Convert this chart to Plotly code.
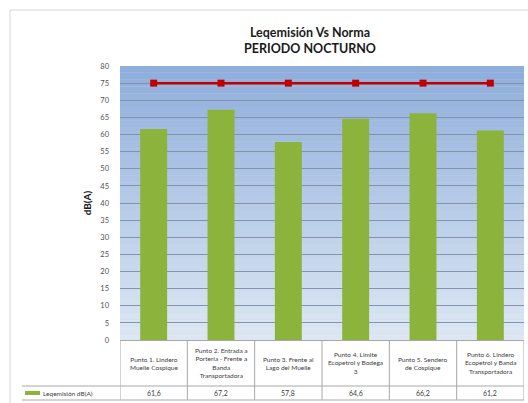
import plotly.graph_objects as go

categories = [
    "Punto 1. Lindero<br>Muelle Cospique",
    "Punto 2. Entrada a<br>Portería - Frente a<br>Banda<br>Transportadora",
    "Punto 3. Frente al<br>Lago del Muelle",
    "Punto 4. Limite<br>Ecopetrol y Bodega<br>3",
    "Punto 5. Sendero<br>de Cospique",
    "Punto 6. Lindero<br>Ecopetrol y Banda<br>Transportadora",
]
leq_values = [61.6, 67.2, 57.8, 64.6, 66.2, 61.2]
norma_values = [75, 75, 75, 75, 75, 75]
series_name = "Leqemisión dB(A)"
y_ticks = list(range(0, 81, 5))

W, H = 528, 403
L, R, T, B = 120, 4, 66, 63
PW, PH = W - L - R, H - T - B

def px(x):
    return (x - L) / PW

def py(y):
    return (H - B - y) / PH

xs = list(range(len(categories)))
fig = go.Figure()
fig.add_trace(go.Bar(x=xs, y=leq_values, width=0.4, marker=dict(color="#8cb33b", line=dict(width=0)),
                     name=series_name, showlegend=False))
fig.add_trace(go.Scatter(x=xs, y=norma_values, mode="lines+markers", line=dict(color="#c00000", width=2.5),
                         marker=dict(symbol="square", size=7, color="#c00000"), showlegend=False))

shapes = []
# gradient background strips
n = 40
top_c = (0x8f, 0xae, 0xdb)
bot_c = (0xdd, 0xe7, 0xf3)
for i in range(n):
    f = i / (n - 1)
    c = tuple(round(top_c[k] + (bot_c[k] - top_c[k]) * f) for k in range(3))
    shapes.append(dict(type="rect", xref="paper", yref="paper", x0=0, x1=1,
                       y1=1 - i / n, y0=1 - (i + 1) / n, line=dict(width=0),
                       fillcolor="rgb(%d,%d,%d)" % c, layer="below"))
# outer chart border
border = "#d4d4d4"
shapes.append(dict(type="line", xref="paper", yref="paper", x0=px(10), x1=px(W), y0=py(10), y1=py(10),
                   line=dict(color=border, width=1)))
shapes.append(dict(type="line", xref="paper", yref="paper", x0=px(10), x1=px(10), y0=py(10), y1=py(H),
                   line=dict(color=border, width=1)))
# data table lines
tl = "#a8a8a8"
for k in range(len(categories) + 1):
    shapes.append(dict(type="line", xref="x", yref="paper", x0=k - 0.5, x1=k - 0.5, y0=0, y1=py(400),
                       line=dict(color=tl, width=1)))
shapes.append(dict(type="line", xref="paper", yref="paper", x0=px(22), x1=1, y0=py(386), y1=py(386),
                   line=dict(color=tl, width=1)))
shapes.append(dict(type="line", xref="paper", yref="paper", x0=px(22), x1=1, y0=py(400), y1=py(400),
                   line=dict(color=tl, width=1)))
# legend key
shapes.append(dict(type="rect", xref="paper", yref="paper", x0=px(25), x1=px(40), y0=py(395), y1=py(391),
                   line=dict(width=0), fillcolor="#8cb33b"))

annotations = []
annotations.append(dict(text="<b>Leqemisión Vs Norma<br>PERIODO NOCTURNO</b>", xref="paper", yref="paper",
                        x=px(310), y=py(41), showarrow=False, xanchor="center", yanchor="middle",
                        font=dict(family="Lato, Open Sans, sans-serif", size=12.5, color="#1a1a1a")))
for i, (c, v) in enumerate(zip(categories, leq_values)):
    annotations.append(dict(text=c, x=i, y=py(363), xref="x", yref="paper", showarrow=False,
                            xanchor="center", yanchor="middle",
                            font=dict(family="Lato, sans-serif", size=6.5, color="#404040")))
    annotations.append(dict(text=("%.1f" % v).replace(".", ","), x=i, y=py(393), xref="x", yref="paper",
                            showarrow=False, xanchor="center", yanchor="middle",
                            font=dict(family="Lato, sans-serif", size=7, color="#404040")))
annotations.append(dict(text=series_name, x=px(41), y=py(393), xref="paper", yref="paper", showarrow=False,
                        xanchor="left", yanchor="middle",
                        font=dict(family="Lato, sans-serif", size=6.5, color="#404040")))

fig.update_layout(
    width=W, height=H,
    margin=dict(l=L, r=R, t=T, b=B),
    paper_bgcolor="white", plot_bgcolor="#c0d2ea",
    shapes=shapes, annotations=annotations,
    bargap=0.6,
    font=dict(family="Lato, sans-serif", color="#404040"),
)
fig.update_xaxes(range=[-0.5, len(categories) - 0.5], showticklabels=False, showgrid=False,
                 zeroline=False, showline=True, linecolor="#a8a8a8", ticks="")
fig.update_yaxes(range=[0, 80], tickvals=y_ticks, showgrid=True, gridcolor="#8193ae", gridwidth=1,
                 zeroline=False, showline=False, tickfont=dict(size=7.5, color="#505050"),
                 ticklabelstandoff=10,
                 title=dict(text="<b>dB(A)</b>", font=dict(size=10, color="#1a1a1a"), standoff=6))

fig.write_html("out.html", config={"displayModeBar": False},
               post_script="document.body.style.margin='0';document.body.style.overflow='hidden';")
